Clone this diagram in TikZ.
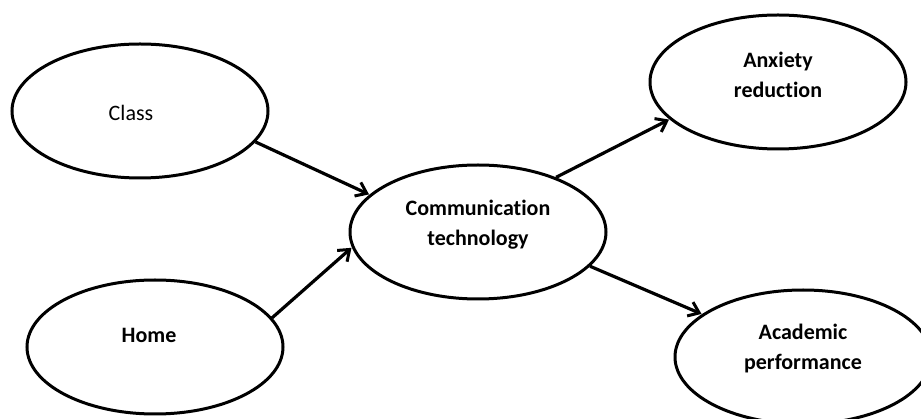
\documentclass[tikz,border=0pt]{standalone}
\usepackage{fontspec}
\setmainfont{Carlito}[Ligatures={NoCommon}]
\usetikzlibrary{shapes.geometric,arrows.meta}
\tikzset{
  oval/.style={draw=black, line width=3pt, ellipse, minimum width=256pt, minimum height=134pt, inner sep=0pt},
  lbl/.style={align=center, font=\fontsize{22}{30}\selectfont\bfseries, inner sep=0pt},
  conn/.style={line width=3.2pt, -{Straight Barb[length=10pt,width=15pt,line width=3pt]}, shorten >=0.5pt}
}
\begin{document}
\begin{tikzpicture}[x=1pt,y=-1pt]
\useasboundingbox (0,0) rectangle (921,419);
\node[oval] (class) at (140,111) {};
\node[oval] (home) at (155,347) {};
\node[oval] (comm) at (478,232) {};
\node[oval] (anx) at (778,82) {};
\node[oval] (acad) at (803,357) {};
\node[lbl, font=\fontsize{22}{30}\selectfont] (classT) at (131,113) {Class};
\node[lbl] (homeT) at (149,335) {Home};
\node[lbl] (commT) at (478,225) {Communication\\technology};
\node[lbl] (anxT) at (778,75) {Anxiety\\reduction};
\node[lbl] (acadT) at (803,349) {Academic\\performance};
\draw[conn] (class.-15) -- (comm.161);
\draw[conn] (home.14) -- (comm.-173);
\draw[conn] (comm.35) -- (anx.-161);
\draw[conn] (comm.-17) -- (acad.157);
\end{tikzpicture}
\end{document}
